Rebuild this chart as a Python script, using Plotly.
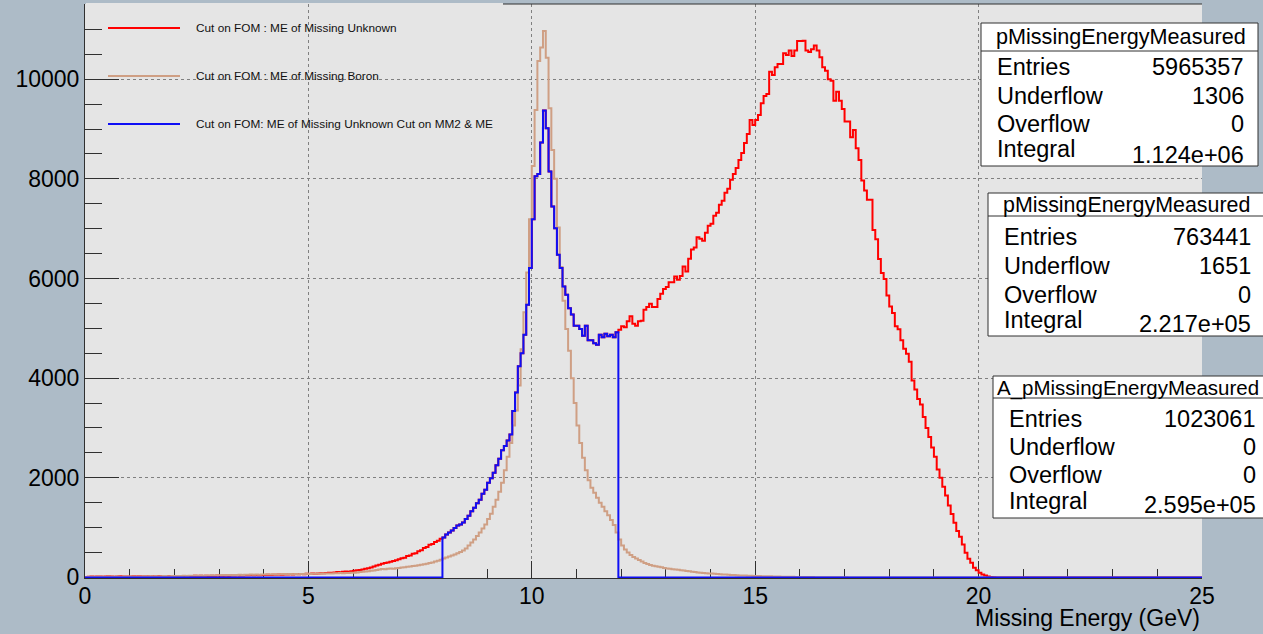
import numpy as np
import plotly.graph_objects as go

# ---- histogram binning: 400 bins over 0-25 GeV ----
N_BINS = 400
X_MIN, X_MAX = 0.0, 25.0

# "Cut on FOM : ME of Missing Unknown", bins 0-127 (0 - 8 GeV)
red_counts_low = [
    0, 14, 18, 12, 16, 20, 15, 18, 22, 17, 14, 19, 21, 16, 18, 20,
    17, 22, 19, 24, 18, 21, 25, 20, 23, 19, 26, 22, 24, 21, 27, 25,
    24, 28, 22, 30, 26, 29, 27, 32, 25, 31, 28, 34, 30, 33, 29, 36,
    32, 35, 38, 33, 40, 36, 42, 39, 37, 44, 41, 46, 43, 48, 45, 50,
    47, 52, 49, 55, 51, 58, 54, 60, 57, 63, 59, 66, 62, 69, 65, 72,
    70, 76, 73, 80, 85, 82, 90, 95, 92, 100, 106, 103, 112, 118, 115, 125,
    135, 142, 150, 160, 172, 185, 200, 220, 240, 255, 275, 290, 300, 315, 330, 345,
    365, 385, 395, 430, 440, 475, 485, 525, 545, 590, 610, 655, 670, 710, 735, 775,
]

# "Cut on FOM: ME of Missing Unknown Cut on MM2 & ME": window 8.0 - 11.9375 GeV
blue_window_start = 8.0
blue_window_counts = [
    800, 860, 900, 940, 990, 1040, 1060, 1100, 1170, 1240, 1330, 1400, 1490, 1560, 1680, 1760,
    1900, 1990, 2100, 2250, 2380, 2550, 2640, 2750, 2870, 3340, 3710, 4240, 4500,
    4870, 5475, 6210, 7190, 8050, 8100, 8730, 9370, 9015, 8150, 7445, 7010, 6475, 6210,
    5840, 5675, 5405, 5275, 5050, 5050, 4985, 4850, 5050, 4760, 4760, 4700, 4670, 4870,
    4820, 4890, 4840, 4870, 4820, 4920,
]

# "Cut on FOM : ME of Missing Unknown", bins above the cut window (11.9375 GeV upward)
red_counts_high = [
    4970, 5040, 5020, 5140, 5240, 5090, 5050, 5140, 5150, 5375, 5430, 5495, 5430, 5430,
    5590, 5695, 5790, 5830, 5925, 5925, 6040, 5975, 6050, 6240, 6140, 6395,
    6580, 6620, 6830, 6800, 6760, 6920, 7060, 7100, 7260, 7320, 7480, 7560, 7720, 7800,
    7980, 8100, 8220, 8380, 8520, 8720, 8900,
    9180, 9080, 9180, 9280, 9520, 9665, 9705, 10150, 10085, 10240, 10305, 10305, 10520,
    10485, 10575, 10465, 10575, 10765, 10765, 10770, 10575, 10545, 10600, 10675, 10575,
    10440, 10240, 10170, 10000, 9970, 9570, 9750, 9570, 9400, 9150, 9150, 8835, 8980, 8615,
    8380, 7965, 7765, 7580, 7580, 6975, 6790, 6390, 6110, 5990, 5660, 5440, 5305, 5040,
    4980, 4760, 4590, 4490, 4330, 3950, 3770, 3580, 3470, 3220, 3000, 2820, 2610, 2420,
    2165, 2000, 1820, 1645, 1445, 1275, 1095, 930, 815, 660, 495, 375, 295, 195, 145,
    95, 60, 40, 20, 10, 4,
]

# "Cut on FOM : ME of Missing Boron", from 0 GeV
brown_counts = [
    0, 8, 12, 10, 15, 11, 14, 9, 16, 13, 12, 17, 14, 15, 18, 13,
    16, 19, 15, 20, 17, 22, 18, 21, 19, 24, 20, 23, 26, 22, 25, 28,
    26, 30, 28, 33, 29, 35, 31, 36, 34, 38, 33, 40, 37, 42, 39, 44,
    41, 46, 43, 48, 45, 50, 47, 52, 49, 54, 51, 56, 53, 58, 55, 60,
    57, 61, 58, 63, 60, 64, 61, 66, 62, 67, 64, 69, 65, 70, 67, 72,
    70, 73, 72, 76, 74, 78, 77, 80, 79, 83, 82, 86, 85, 88, 90, 92,
    95, 100, 106, 112, 118, 125, 132, 140, 150, 160, 170, 165, 172, 178, 175, 185,
    190, 198, 205, 212, 220, 228, 236, 245, 255, 265, 275, 288, 300, 318, 335, 355,
    380, 400, 420, 440, 460, 485, 510, 540, 580, 640, 700, 760, 830, 900, 980, 1060,
    1170, 1280, 1420, 1560, 1720, 1900, 2150, 2420, 2700, 3050, 3350, 3850, 4580,
    5320, 6120, 7190, 8260, 9380, 10365, 10635, 10970, 10430, 9415, 8580, 8000, 7025, 6230, 5555, 4985,
    4550, 4000, 3500, 3050, 2700, 2400, 2150, 1950, 1800, 1700, 1600, 1500, 1420, 1330, 1250, 1150,
    1050, 900, 760, 640,
    560, 500, 450, 410, 380, 350, 320, 290, 270, 250, 235, 225, 215, 205, 190, 180,
    172, 165, 158, 152, 145, 138, 130, 122, 115, 108, 100, 95, 90, 85, 80, 76,
    72, 68, 64, 60, 56, 52, 49, 46, 43, 40, 38, 36, 34, 32, 30, 28,
    27, 25, 24, 22, 21, 19, 18, 17, 15, 14, 13, 12, 11, 10, 9, 9,
    8, 7, 7, 6, 5, 5, 4, 4, 3, 3, 2, 2, 2, 1, 1, 1,
]

legend_labels = [
    "Cut on FOM : ME of Missing Unknown",
    "Cut on FOM : ME of Missing Boron",
    "Cut on FOM: ME of Missing Unknown Cut on MM2 & ME",
]

stat_titles = ["pMissingEnergyMeasured", "pMissingEnergyMeasured", "A_pMissingEnergyMeasured"]
stat_entries = ["5965357", "763441", "1023061"]
stat_underflow = ["1306", "1651", "0"]
stat_overflow = ["0", "0", "0"]
stat_integral = ["1.124e+06", "2.217e+05", "2.595e+05"]

x_tick_values = [0, 5, 10, 15, 20, 25]
y_tick_values = [0, 2000, 4000, 6000, 8000, 10000]
x_title = "Missing Energy (GeV)"

# ---- assemble full-range bin contents ----
edges = np.linspace(X_MIN, X_MAX, N_BINS + 1)
bin_w = (X_MAX - X_MIN) / N_BINS
w0 = int(round((blue_window_start - X_MIN) / bin_w))


def full(counts, start=0):
    arr = np.zeros(N_BINS)
    arr[start:start + len(counts)] = counts
    return arr


blue = full(blue_window_counts, w0)
red = full(red_counts_low + blue_window_counts + red_counts_high)
brown = full(brown_counts)


def step_y(arr):
    return np.append(arr, arr[-1])


RED = "#ff0000"
BROWN = "#cf9f84"
BLUE = "#0f0ff5"
PAPER = "#adbbc7"
FRAME_BG = "#e5e5e5"
INK = "#303030"
FONT = "Liberation Sans, Arial, Helvetica, sans-serif"

W, H = 1263, 634
PL, PR, PT, PB = 85, 1202, 4, 578


def px(x):
    return (x - PL) / (PR - PL)


def py(y):
    return (PB - y) / (PB - PT)


fig = go.Figure()
for arr, col in [(red, RED), (brown, BROWN), (blue, BLUE)]:
    fig.add_trace(go.Scatter(
        x=edges, y=step_y(arr), mode="lines", line_shape="hv",
        line=dict(color=col, width=2), hoverinfo="skip", showlegend=False,
    ))

shapes = []
annotations = []

# legend panel
shapes.append(dict(type="rect", xref="paper", yref="paper", layer="between",
                   x0=px(86), x1=px(503), y0=py(148), y1=py(3),
                   fillcolor=FRAME_BG, line=dict(width=0)))
for label, col, yy in zip(legend_labels, [RED, BROWN, BLUE], [28, 76, 124]):
    shapes.append(dict(type="line", xref="paper", yref="paper", layer="above",
                       x0=px(108), x1=px(180), y0=py(yy), y1=py(yy),
                       line=dict(color=col, width=2)))
    annotations.append(dict(xref="paper", yref="paper", x=px(194), y=py(yy),
                            xanchor="left", yanchor="middle", showarrow=False,
                            text=label, font=dict(family=FONT, size=11.8, color="#111111")))

# top frame edge (right of the legend panel)
shapes.append(dict(type="line", xref="paper", yref="paper", layer="above",
                   x0=px(503), x1=1, y0=1, y1=1, line=dict(color=INK, width=1)))

# statistics boxes
boxes = [
    dict(x0=981, x1=1258, y0=23, y1=166, sep=51, ty=37, tx=1121, tsize=21.6,
         rows=[67, 96, 124, 149], iv=155, lx=995, vx=1246),
    dict(x0=988, x1=1266, y0=193, y1=336, sep=216, ty=205, tx=1126, tsize=21.4,
         rows=[237, 266, 295, 320], iv=324, lx=1002, vx=1253),
    dict(x0=993, x1=1266, y0=376, y1=518, sep=398, ty=388, tx=1128, tsize=20.5,
         rows=[419, 447, 475, 501], iv=505, lx=1007, vx=1258),
]
row_labels = ["Entries", "Underflow", "Overflow", "Integral"]
for i, b in enumerate(boxes):
    shapes.append(dict(type="rect", xref="paper", yref="paper", layer="above",
                       x0=px(b["x0"]), x1=px(b["x1"]), y0=py(b["y1"]), y1=py(b["y0"]),
                       fillcolor="white", line=dict(color=INK, width=1)))
    shapes.append(dict(type="line", xref="paper", yref="paper", layer="above",
                       x0=px(b["x0"]), x1=px(b["x1"]), y0=py(b["sep"]), y1=py(b["sep"]),
                       line=dict(color=INK, width=1)))
    annotations.append(dict(xref="paper", yref="paper", x=px(b["tx"]), y=py(b["ty"]),
                            xanchor="center", yanchor="middle", showarrow=False,
                            text=stat_titles[i], font=dict(family=FONT, size=b["tsize"], color="black")))
    values = [stat_entries[i], stat_underflow[i], stat_overflow[i], stat_integral[i]]
    for k, (lab, val) in enumerate(zip(row_labels, values)):
        ly = b["rows"][k]
        vy = b["iv"] if k == 3 else ly
        annotations.append(dict(xref="paper", yref="paper", x=px(b["lx"]), y=py(ly),
                                xanchor="left", yanchor="middle", showarrow=False,
                                text=lab, font=dict(family=FONT, size=23.5, color="black")))
        annotations.append(dict(xref="paper", yref="paper", x=px(b["vx"]), y=py(vy),
                                xanchor="right", yanchor="middle", showarrow=False,
                                text=val, font=dict(family=FONT, size=23.5, color="black")))

# x-axis title, right-aligned at the end of the axis
annotations.append(dict(xref="paper", yref="paper", x=1, y=py(618), xanchor="right",
                        yanchor="middle", showarrow=False, text=x_title,
                        font=dict(family=FONT, size=23, color="black")))

fig.update_layout(
    width=W, height=H,
    margin=dict(l=PL, r=W - PR, t=PT, b=H - PB, pad=0),
    paper_bgcolor=PAPER, plot_bgcolor=FRAME_BG,
    font=dict(family=FONT, size=23, color="black"),
    shapes=shapes, annotations=annotations, showlegend=False,
)
fig.update_xaxes(
    range=[X_MIN, X_MAX], tickvals=x_tick_values, ticktext=[str(v) for v in x_tick_values],
    ticks="inside", ticklen=17, tickwidth=1, tickcolor=INK,
    minor=dict(dtick=1, ticks="inside", ticklen=9, tickwidth=1, tickcolor=INK, showgrid=False),
    showgrid=True, gridcolor="#808080", gridwidth=1, griddash="dot",
    showline=True, linecolor=INK, linewidth=1, zeroline=False,
    layer="below traces", tickfont=dict(size=23, color="black"),
    ticklabelstandoff=-3,
)
fig.update_yaxes(
    range=[-12, 11510], tickvals=y_tick_values, ticktext=[str(v) for v in y_tick_values],
    ticks="inside", ticklen=34, tickwidth=1, tickcolor=INK,
    minor=dict(dtick=500, ticks="inside", ticklen=17, tickwidth=1, tickcolor=INK, showgrid=False),
    showgrid=True, gridcolor="#808080", gridwidth=1, griddash="dot",
    showline=True, linecolor=INK, linewidth=1, zeroline=False,
    tickfont=dict(size=23, color="black"),
)

fig.write_html("out.html")
